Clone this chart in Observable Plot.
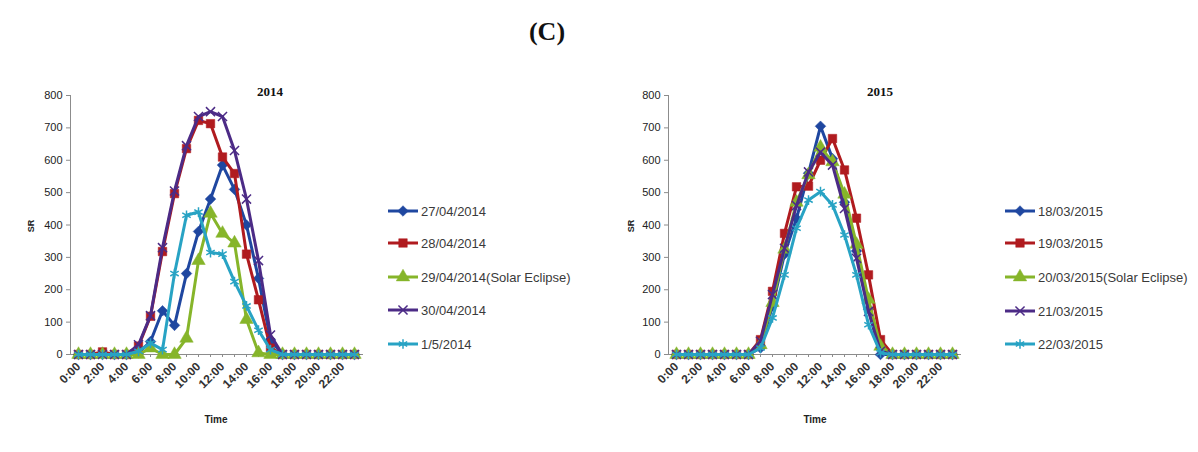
<!DOCTYPE html>
<html><head><meta charset="utf-8">
<script src="https://cdn.jsdelivr.net/npm/d3@7"></script>
<script src="https://cdn.jsdelivr.net/npm/@observablehq/plot@0.6"></script>
<style>
html,body{margin:0;padding:0;background:#fff;overflow:hidden;}
#root{position:relative;width:1198px;height:452px;font-family:"Liberation Sans",Arial,sans-serif;}
.abs{position:absolute;white-space:nowrap;}
.title{font-family:"Liberation Serif","Times New Roman",serif;font-weight:bold;color:#111;}
.axlab{font-weight:bold;font-size:10px;color:#222;}
.leg{position:absolute;display:flex;align-items:center;font-size:13px;color:#3a3a3a;white-space:nowrap;}
.leg svg{margin-right:2px;}
</style></head><body><div id="root"></div>
<script>
// ---- data ----
const hours = d3.range(24).map(h => h + ":00");
const tickHours = hours.filter((d, i) => i % 2 === 0);
const yTicks = d3.range(0, 801, 100);

const names2014 = ["27/04/2014", "28/04/2014", "29/04/2014(Solar Eclipse)", "30/04/2014", "1/5/2014"];
const sr_27_04_2014 = [0,0,0,0,0,5,40,135,90,250,380,480,585,510,400,235,45,0,0,0,0,0,0,0];
const sr_28_04_2014 = [0,0,8,0,0,26,118,318,497,636,723,713,610,559,310,169,20,0,0,0,0,0,0,0];
const sr_29_04_2014 = [0,0,0,0,0,0,20,0,0,50,290,436,374,344,108,5,0,0,0,0,0,0,0,0];
const sr_30_04_2014 = [0,0,0,0,0,30,120,330,505,645,735,750,735,630,480,290,60,0,0,0,0,0,0,0];
const sr_01_05_2014 = [0,0,0,0,0,10,35,15,250,430,440,315,310,225,150,75,15,0,0,0,0,0,0,0];

const names2015 = ["18/03/2015", "19/03/2015", "20/03/2015(Solar Eclipse)", "21/03/2015", "22/03/2015"];
const sr_18_03_2015 = [0,0,0,0,0,0,0,20,150,310,420,560,705,605,470,320,140,0,0,0,0,0,0,0];
const sr_19_03_2015 = [0,0,0,0,0,0,0,46,195,374,518,520,600,667,570,421,246,46,0,0,0,0,0,0];
const sr_20_03_2015 = [0,0,0,0,0,0,0,30,160,325,470,555,640,595,495,340,170,25,0,0,0,0,0,0];
const sr_21_03_2015 = [0,0,0,0,0,0,0,41,185,328,460,564,625,585,451,297,133,10,0,0,0,0,0,0];
const sr_22_03_2015 = [0,0,0,0,0,0,0,20,113,246,390,477,503,462,369,246,92,5,0,0,0,0,0,0];

const colors = ["#1f47a0", "#b01b1f", "#86b52a", "#4c2b86", "#28a3c4"];
const symbols = ["diamond2", "square", "triangle", "times", "asterisk"];
const filled = [true, true, true, false, false];
const radii = [4.8, 4.8, 5, 4.2, 4.6];

// ---- chart builder ----
function makeChart(names, valuesList) {
  const data = names.flatMap((name, k) => hours.map((h, i) => ({series: name, k, time: h, sr: valuesList[k][i]})));
  const marks = [
    Plot.axisY({ticks: yTicks, tickSize: 4, tickPadding: 4, stroke: "#8c8c8c", label: null, fontSize: 11}),
    Plot.axisX({ticks: hours, tickSize: 3, tickFormat: () => "", stroke: "#8c8c8c", label: null}),
    Plot.axisX({ticks: tickHours, tickRotate: -45, tickSize: 0, tickPadding: 10, label: null, fontSize: 12, fontWeight: "bold", fill: "#333"}),
    Plot.frame({anchor: "left", stroke: "#8c8c8c"}),
    Plot.frame({anchor: "bottom", stroke: "#8c8c8c"})
  ];
  names.forEach((n, k) => {
    const sd = data.filter(d => d.k === k);
    marks.push(Plot.line(sd, {x: "time", y: "sr", stroke: colors[k], strokeWidth: 3}));
    marks.push(Plot.dot(sd, {x: "time", y: "sr", symbol: symbols[k], r: radii[k],
      fill: filled[k] ? colors[k] : "none", stroke: colors[k], strokeWidth: filled[k] ? 0.5 : 1.5}));
  });
  return Plot.plot({
    width: 380, height: 372,
    marginLeft: 70, marginRight: 18, marginTop: 15, marginBottom: 98,
    style: {fontFamily: "Liberation Sans, Arial, sans-serif", fontSize: "11px", color: "#222", background: "transparent", overflow: "visible"},
    x: {type: "point", domain: hours, padding: 0.5, label: null},
    y: {domain: [0, 800], label: null},
    marks
  });
}

const root = document.getElementById("root");
function addDiv(cls, text, css) {
  const d = document.createElement("div");
  d.className = "abs " + cls;
  d.textContent = text;
  Object.assign(d.style, css);
  root.appendChild(d);
  return d;
}
function place(el, left, top) {
  el.style.position = "absolute";
  el.style.left = left + "px";
  el.style.top = top + "px";
  root.appendChild(el);
}

const symMap = {diamond2: d3.symbolDiamond2, square: d3.symbolSquare, triangle: d3.symbolTriangle, times: d3.symbolTimes, asterisk: d3.symbolAsterisk};
function legend(names, left, rows) {
  names.forEach((n, k) => {
    const item = document.createElement("div");
    item.className = "leg";
    item.style.left = left + "px";
    item.style.top = (rows[k] - 8) + "px";
    item.style.height = "16px";
    const svg = d3.create("svg").attr("width", 32).attr("height", 16);
    svg.append("line").attr("x1", 1).attr("x2", 31).attr("y1", 8).attr("y2", 8).attr("stroke", colors[k]).attr("stroke-width", 3);
    svg.append("path").attr("transform", "translate(16,8)")
      .attr("d", d3.symbol(symMap[symbols[k]], Math.PI * radii[k] * radii[k])())
      .attr("fill", filled[k] ? colors[k] : "none").attr("stroke", colors[k]).attr("stroke-width", filled[k] ? 0.5 : 1.5);
    item.appendChild(svg.node());
    const t = document.createElement("span");
    t.textContent = n;
    item.appendChild(t);
    root.appendChild(item);
  });
}

// title
addDiv("title", "(C)", {left: "547px", top: "17px", fontSize: "26px", transform: "translateX(-50%)"});

// 2014
place(makeChart(names2014, [sr_27_04_2014, sr_28_04_2014, sr_29_04_2014, sr_30_04_2014, sr_01_05_2014]), 0, 80);
addDiv("title", "2014", {left: "270px", top: "84px", fontSize: "13px", transform: "translateX(-50%)"});
addDiv("axlab", "SR", {left: "31px", top: "226px", transform: "translate(-50%,-50%) rotate(-90deg)", fontSize: "9px"});
addDiv("axlab", "Time", {left: "216px", top: "414px", transform: "translateX(-50%)"});
legend(names2014, 387, [211, 243, 277, 310, 344]);

// 2015
place(makeChart(names2015, [sr_18_03_2015, sr_19_03_2015, sr_20_03_2015, sr_21_03_2015, sr_22_03_2015]), 598, 80);
addDiv("title", "2015", {left: "880px", top: "84px", fontSize: "13px", transform: "translateX(-50%)"});
addDiv("axlab", "SR", {left: "631px", top: "226px", transform: "translate(-50%,-50%) rotate(-90deg)", fontSize: "9px"});
addDiv("axlab", "Time", {left: "815px", top: "414px", transform: "translateX(-50%)"});
legend(names2015, 1004, [211, 243, 277, 311, 344]);
</script>
</body></html>
